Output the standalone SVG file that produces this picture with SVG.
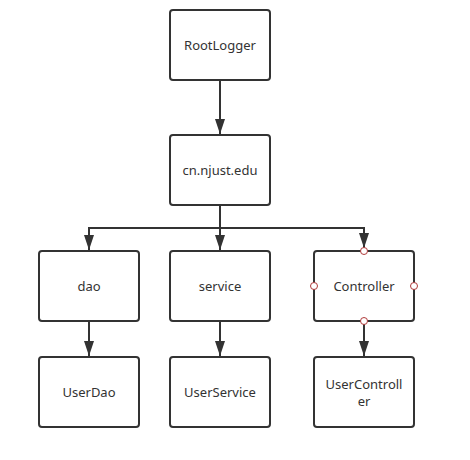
<svg xmlns="http://www.w3.org/2000/svg" width="470" height="460" viewBox="0 0 470 460">
<style>
.box{fill:#fff;stroke:#333;stroke-width:2}
.lbl{font-family:"Noto Sans","Open Sans",sans-serif;font-size:13px;fill:#333;text-anchor:middle;dominant-baseline:central}
.edge{fill:none;stroke:#333;stroke-width:2}
.pt{fill:#fff;stroke:#b03a3a;stroke-width:1}
</style>
<defs>
<marker id="arr" markerWidth="15" markerHeight="10" refX="15" refY="5" viewBox="0 0 15 10" markerUnits="userSpaceOnUse" orient="auto">
<path d="M0,0 L15,5 L0,10 Z" fill="#333"/>
</marker>
</defs>
<rect width="470" height="460" fill="#fff"/>
<g id="connectors">
<path class="edge" d="M220,80 V134" marker-end="url(#arr)"/>
<path class="edge" d="M220,205 V228 H89 V250" marker-end="url(#arr)"/>
<path class="edge" d="M220,228 V250" marker-end="url(#arr)"/>
<path class="edge" d="M220,228 H364 V248" marker-end="url(#arr)"/>
<path class="edge" d="M89,321 V356" marker-end="url(#arr)"/>
<path class="edge" d="M220,321 V356" marker-end="url(#arr)"/>
<path class="edge" d="M364,321 V356" marker-end="url(#arr)"/>
</g>
<g id="RootLogger"><rect class="box" x="170" y="10" width="100" height="70" rx="3"/><text class="lbl" x="220" y="45">RootLogger</text></g>
<g id="cn.njust.edu"><rect class="box" x="170" y="135" width="100" height="70" rx="3"/><text class="lbl" x="220" y="170">cn.njust.edu</text></g>
<g id="dao"><rect class="box" x="39" y="251" width="100" height="70" rx="3"/><text class="lbl" x="89" y="286">dao</text></g>
<g id="service"><rect class="box" x="170" y="251" width="100" height="70" rx="3"/><text class="lbl" x="220" y="286">service</text></g>
<g id="Controller"><rect class="box" x="314" y="251" width="100" height="70" rx="3"/><text class="lbl" x="364" y="286">Controller</text>
<circle class="pt" cx="364" cy="251" r="3.5"/><circle class="pt" cx="314" cy="286" r="3.5"/><circle class="pt" cx="414" cy="286" r="3.5"/><circle class="pt" cx="364" cy="321" r="3.5"/></g>
<g id="UserDao"><rect class="box" x="39" y="357" width="100" height="70" rx="3"/><text class="lbl" x="89" y="392">UserDao</text></g>
<g id="UserService"><rect class="box" x="170" y="357" width="100" height="70" rx="3"/><text class="lbl" x="220" y="392">UserService</text></g>
<g id="UserController"><rect class="box" x="314" y="357" width="100" height="70" rx="3"/><text class="lbl" x="364" y="384">UserControll</text><text class="lbl" x="364" y="401">er</text></g>
</svg>
